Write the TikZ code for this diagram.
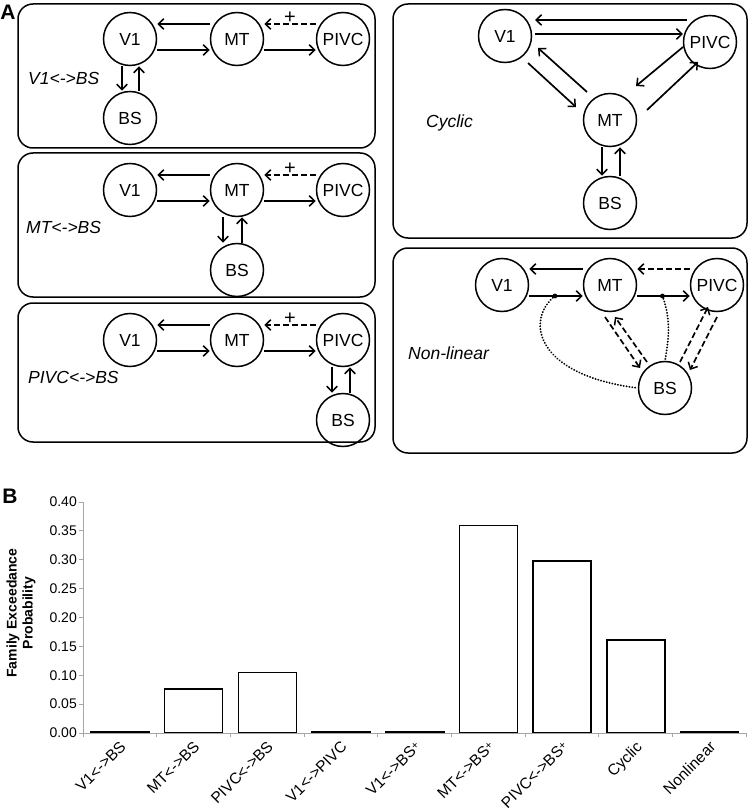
\documentclass[tikz,border=0pt]{standalone}
\usepackage{fontspec}
\setmainfont{Liberation Sans}
\usetikzlibrary{arrows.meta,calc}
\begin{document}
\begin{tikzpicture}[x=1pt,y=-1pt,
  every node/.style={inner sep=0pt},
  reg/.style={circle,draw,line width=1.5pt,minimum size=53pt,font=\fontsize{17.5}{17.5}\selectfont},
  panelbox/.style={draw,line width=1.5pt,rounded corners=15pt},
  arr/.style={line width=1.7pt,-{Straight Barb[length=5.5pt,width=10.5pt,line width=1.5pt]}},
  darr/.style={arr,dash pattern=on 6pt off 3pt},
  dotline/.style={line width=2pt,dash pattern=on 0.1pt off 2.8pt,line cap=round},
  boxlbl/.style={font=\itshape\fontsize{17.5}{17.5}\selectfont,anchor=west},
  plus/.style={font=\fontsize{20}{20}\selectfont},
  panel/.style={font=\bfseries\fontsize{21}{21}\selectfont},
  ticklbl/.style={font=\fontsize{14}{14}\selectfont,anchor=east},
  catlbl/.style={font=\fontsize{15.5}{15.5}\selectfont,anchor=north east,rotate=45},
  bar/.style={draw,line width=1.5pt,fill=white},
  axis/.style={draw=gray!70,line width=1pt}
]
\useasboundingbox (0,0) rectangle (750,810);

\node[panel] (lA) at (8,12) {A};
\node[panel] (lB) at (10,496) {B};

% ---------- box 1 : V1<->BS
\draw[panelbox] (18,4) rectangle (375,148);
\node[reg] (a1v) at (130,39) {V1};
\node[reg] (a1m) at (237,39) {MT};
\node[reg] (a1p) at (343,39) {PIVC};
\node[reg] (a1b) at (130,118) {BS};
\draw[arr] ([yshift=15pt]a1m.west) -- ([yshift=15pt]a1v.east);
\draw[arr] ([yshift=-11pt]a1v.east) -- ([yshift=-11pt]a1m.west);
\draw[darr] ([yshift=15pt]a1p.west) -- node[plus,midway,above=0pt]{+} ([yshift=15pt]a1m.east);
\draw[arr] ([yshift=-11pt]a1m.east) -- ([yshift=-11pt]a1p.west);
\draw[arr] ([xshift=-8pt]a1v.south) -- ([xshift=-8pt]a1b.north);
\draw[arr] ([xshift=9pt]a1b.north) -- ([xshift=9pt]a1v.south);
\node[boxlbl] (t1) at (28,78) {V1<->BS};

% ---------- box 2 : MT<->BS
\draw[panelbox] (18,153) rectangle (375,297);
\node[reg] (a2v) at (130,190) {V1};
\node[reg] (a2m) at (237,190) {MT};
\node[reg] (a2p) at (343,190) {PIVC};
\node[reg] (a2b) at (237,270) {BS};
\draw[arr] ([yshift=15pt]a2m.west) -- ([yshift=15pt]a2v.east);
\draw[arr] ([yshift=-11pt]a2v.east) -- ([yshift=-11pt]a2m.west);
\draw[darr] ([yshift=15pt]a2p.west) -- node[plus,midway,above=0pt]{+} ([yshift=15pt]a2m.east);
\draw[arr] ([yshift=-11pt]a2m.east) -- ([yshift=-11pt]a2p.west);
\draw[arr] ([xshift=-14pt]a2m.south) -- ([xshift=-14pt]a2b.north);
\draw[arr] ([xshift=5pt]a2b.north) -- ([xshift=5pt]a2m.south);
\node[boxlbl] (t2) at (26,227) {MT<->BS};

% ---------- box 3 : PIVC<->BS
\draw[panelbox] (18,303) rectangle (375,442);
\node[reg] (a3v) at (130,340) {V1};
\node[reg] (a3m) at (237,340) {MT};
\node[reg] (a3p) at (343,340) {PIVC};
\node[reg] (a3b) at (343,420) {BS};
\draw[arr] ([yshift=15pt]a3m.west) -- ([yshift=15pt]a3v.east);
\draw[arr] ([yshift=-11pt]a3v.east) -- ([yshift=-11pt]a3m.west);
\draw[darr] ([yshift=15pt]a3p.west) -- node[plus,midway,above=0pt]{+} ([yshift=15pt]a3m.east);
\draw[arr] ([yshift=-11pt]a3m.east) -- ([yshift=-11pt]a3p.west);
\draw[arr] ([xshift=-11pt]a3p.south) -- ([xshift=-11pt]a3b.north);
\draw[arr] ([xshift=7pt]a3b.north) -- ([xshift=7pt]a3p.south);
\node[boxlbl] (t3) at (28,377) {PIVC<->BS};

% ---------- box 4 : Cyclic
\draw[panelbox] (393,4) rectangle (747,238);
\node[reg] (cv) at (505,36) {V1};
\node[reg] (cp) at (710,42) {PIVC};
\node[reg] (cm) at (610,120) {MT};
\node[reg] (cb) at (610,203) {BS};
\draw[arr] ([shift={(-23,-22)}]cp.center) -- ([shift={(30,-16)}]cv.center);
\draw[arr] ([shift={(30,-2)}]cv.center) -- ([shift={(-27,-8)}]cp.center);
\draw[arr] ([shift={(-23,-28)}]cm.center) -- ([shift={(33,12)}]cv.center);
\draw[arr] ([shift={(23,27)}]cv.center) -- ([shift={(-34,-13)}]cm.center);
\draw[arr] ([shift={(-27,5)}]cp.center) -- ([shift={(26,-34)}]cm.center);
\draw[arr] ([shift={(37,-10)}]cm.center) -- ([shift={(-12,20)}]cp.center);
\draw[arr] ([xshift=-8pt]cm.south) -- ([xshift=-8pt]cb.north);
\draw[arr] ([xshift=10pt]cb.north) -- ([xshift=10pt]cm.south);
\node[boxlbl] (t4) at (426,123) {Cyclic};

% ---------- box 5 : Non-linear
\draw[panelbox] (393,248) rectangle (747,453);
\node[reg] (nv) at (502,285) {V1};
\node[reg] (nm) at (610,285) {MT};
\node[reg] (np) at (717,285) {PIVC};
\node[reg] (nb) at (665,388) {BS};
\draw[arr] ([yshift=16pt]nm.west) -- ([yshift=16pt]nv.east);
\draw[arr] ([yshift=-11pt]nv.east) -- ([yshift=-11pt]nm.west);
\draw[darr] ([yshift=16pt]np.west) -- ([yshift=16pt]nm.east);
\draw[arr] ([yshift=-11pt]nm.east) -- ([yshift=-11pt]np.west);
\coordinate (d1) at ($([yshift=-11pt]nv.east)!0.48!([yshift=-11pt]nm.west)$);
\coordinate (d2) at ($([yshift=-11pt]nm.east)!0.48!([yshift=-11pt]np.west)$);
\fill (d1) circle (2.4pt);
\fill (d2) circle (2.4pt);
\draw[dotline] (d1) .. controls (525,320) and (535,375) .. (nb.west);
\draw[dotline] (d2) .. controls (672,322) and (668,342) .. (nb.north);
\draw[darr] ([shift={(-5,32)}]nm.center) -- ([shift={(-25,-20)}]nb.center);
\draw[darr] ([shift={(-18,-26)}]nb.center) -- ([shift={(5,32)}]nm.center);
\draw[darr] ([shift={(15,-26)}]nb.center) -- ([shift={(-9,22)}]np.center);
\draw[darr] ([shift={(0,32)}]np.center) -- ([shift={(25,-18)}]nb.center);
\node[boxlbl] (t5) at (408,353) {Non-linear};

% ---------- panel B : bar chart
\node[font=\bfseries\fontsize{14}{16}\selectfont,align=center,rotate=90] (ytitle) at (21,613) {Family Exceedance\\Probability};
\foreach \v [count=\i from 0] in {0.00,0.05,0.10,0.15,0.20,0.25,0.30,0.35,0.40}{
  \pgfmathsetmacro{\yy}{733-577.5*\v}
  \draw[axis] (79,\yy) -- (83,\yy);
  \node[ticklbl] (yt\i) at (77,\yy) {\v};
}
\foreach \val/\name [count=\k from 0] in {0.002/V1<->BS,0.076/MT<->BS,0.105/PIVC<->BS,0.002/V1<->PIVC,0.002/V1<->BS{\raisebox{2.5pt}{\fontsize{11}{11}\selectfont+}},0.359/MT<->BS{\raisebox{2.5pt}{\fontsize{11}{11}\selectfont+}},0.298/PIVC<->BS{\raisebox{2.5pt}{\fontsize{11}{11}\selectfont+}},0.161/Cyclic,0.002/Nonlinear}{
  \pgfmathsetmacro{\tx}{83+73.7*\k}
  \pgfmathsetmacro{\ty}{733-577.5*\val}
  \draw[bar] (\tx+8,733) rectangle (\tx+66,\ty);
  \node[catlbl] (c\k) at (\tx+36,740) {\name};
}
\draw[axis] (83,502) -- (83,733) -- (747,733);
\foreach \k in {0,...,9}{
  \pgfmathsetmacro{\tx}{83+73.7*\k}
  \draw[axis] (\tx,733) -- (\tx,737);
}
\end{tikzpicture}
\end{document}
